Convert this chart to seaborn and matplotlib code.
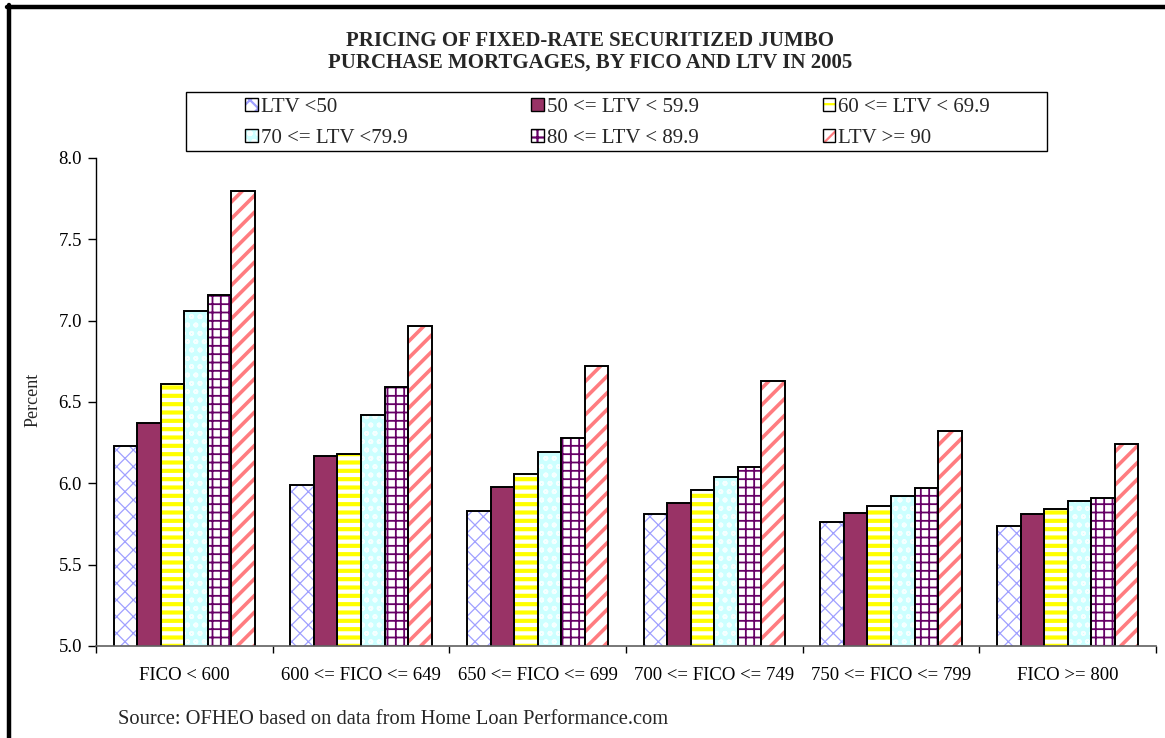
import numpy as np
import pandas as pd
import matplotlib
matplotlib.use("Agg")
import matplotlib.pyplot as plt
import seaborn as sns
from matplotlib.patches import Rectangle, Patch
from matplotlib.lines import Line2D
from matplotlib.legend_handler import HandlerTuple

# ---------------- data ----------------
fico_groups = ["FICO < 600", "600 <= FICO <= 649", "650 <= FICO <= 699",
               "700 <= FICO <= 749", "750 <= FICO <= 799", "FICO >= 800"]
ltv_classes = ["LTV <50", "50 <= LTV < 59.9", "60 <= LTV < 69.9",
               "70 <= LTV <79.9", "80 <= LTV < 89.9", "LTV >= 90"]
ltv_lt50 = [6.23, 5.99, 5.83, 5.81, 5.76, 5.74]
ltv_50_60 = [6.37, 6.17, 5.98, 5.88, 5.82, 5.81]
ltv_60_70 = [6.61, 6.18, 6.06, 5.96, 5.86, 5.84]
ltv_70_80 = [7.06, 6.42, 6.19, 6.04, 5.92, 5.89]
ltv_80_90 = [7.16, 6.59, 6.28, 6.10, 5.97, 5.91]
ltv_ge90 = [7.80, 6.97, 6.72, 6.63, 6.32, 6.24]
y_ticks = [5.0, 5.5, 6.0, 6.5, 7.0, 7.5, 8.0]
title_lines = ["PRICING OF FIXED-RATE SECURITIZED JUMBO",
               "PURCHASE MORTGAGES, BY FICO AND LTV IN 2005"]
source_text = "Source: OFHEO based on data from Home Loan Performance.com"

series = [ltv_lt50, ltv_50_60, ltv_60_70, ltv_70_80, ltv_80_90, ltv_ge90]
df = pd.DataFrame({
    "fico": [g for s in series for g in fico_groups],
    "ltv": [c for c, s in zip(ltv_classes, series) for _ in s],
    "value": [v for s in series for v in s],
})

# styles: facecolor, hatch, hatch colour, hatch linewidth
face_colors = ["white", "#993366", "white", "#CCFFFF", "white", "white"]
hatches = ["xx", None, "--", "oo", "++", "//"]
hatch_colors = ["#A0A0FF", "#993366", "#FFFF00", "#F6FFFF", "#660066", "#FF7C80"]
hatch_lws = [0.9, 1.0, 3.0, 1.2, 1.3, 2.6]

# ---------------- figure ----------------
sns.set_theme(style="white")
plt.rcParams["font.family"] = ["Liberation Serif", "DejaVu Serif"]
plt.rcParams["hatch.linewidth"] = 1.6

W, H = 1165, 738
fig = plt.figure(figsize=(W / 100, H / 100), dpi=100)
fig.patch.set_facecolor("white")
ax = fig.add_axes([96 / W, 1 - 646 / H, (1156 - 96) / W, (646 - 158) / H])

sns.barplot(data=df, x="fico", y="value", hue="ltv", order=fico_groups,
            hue_order=ltv_classes, palette=face_colors, saturation=1,
            errorbar=None, legend=False, width=0.8, ax=ax)


def style_patch(p, i):
    p.set_facecolor(face_colors[i])
    if hatches[i]:
        p.set_hatch(hatches[i])
    p.set_edgecolor(hatch_colors[i])
    p.set_linewidth(0)
    if hasattr(p, "set_hatch_linewidth"):
        p.set_hatch_linewidth(hatch_lws[i])


for i, cont in enumerate(ax.containers):
    for bar in cont:
        style_patch(bar, i)
        ax.add_patch(Rectangle((bar.get_x(), bar.get_y()), bar.get_width(),
                               bar.get_height(), fill=False, edgecolor="black",
                               linewidth=1.4, zorder=bar.get_zorder() + 0.1))

ax.set_ylim(5.0, 8.0)
ax.set_xlim(-0.5, len(fico_groups) - 0.5)
ax.set_yticks(y_ticks)
ax.set_yticklabels([f"{t:.1f}" for t in y_ticks])
ax.set_xticks(range(len(fico_groups)))
ax.set_xticklabels(fico_groups)
ax.set_xticks(np.arange(-0.5, len(fico_groups), 1.0), minor=True)
ax.tick_params(axis="x", which="major", length=0, pad=15, labelsize=13.5,
               colors="black")
ax.tick_params(axis="x", which="minor", length=5, width=1, direction="out",
               color="black", bottom=True)
ax.tick_params(axis="y", length=6, width=1, direction="out", pad=4,
               labelsize=13.5, colors="black", left=True)
ax.set_xlabel("")
ax.set_ylabel("")
for s in ["top", "right"]:
    ax.spines[s].set_visible(False)
ax.spines["left"].set_color("black")
ax.spines["left"].set_linewidth(1)
ax.spines["bottom"].set_color("#606060")
ax.spines["bottom"].set_linewidth(1.2)
ax.set_facecolor("white")

# titles and texts
fig.text(590 / W, 1 - 41 / H, title_lines[0], ha="center", va="center",
         fontsize=15, fontweight="bold")
fig.text(590 / W, 1 - 63 / H, title_lines[1], ha="center", va="center",
         fontsize=15, fontweight="bold")
fig.text(33 / W, 1 - 400 / H, "Percent", rotation=90, ha="center",
         va="center", fontsize=13)
fig.text(118 / W, 1 - 720 / H, source_text, ha="left", va="center",
         fontsize=14.8)

# legend
handles = []
for i in range(len(ltv_classes)):
    p1 = Patch()
    style_patch(p1, i)
    p2 = Patch(facecolor="none", edgecolor="black", linewidth=1)
    handles.append((p1, p2))
order = [0, 3, 1, 4, 2, 5]
leg = fig.legend([handles[k] for k in order], [ltv_classes[k] for k in order],
                 handler_map={tuple: HandlerTuple(ndivide=1, pad=0)},
                 ncol=3, loc="upper left", mode="expand",
                 bbox_to_anchor=(245 / W, 1 - 98 / H, (990 - 245) / W, 0.0),
                 frameon=False, fontsize=15, handlelength=0.6,
                 handleheight=0.6, handletextpad=0.15, borderpad=0,
                 borderaxespad=0, labelspacing=0.58)
fig.add_artist(Rectangle((186 / W, 1 - 151 / H), (1047 - 186) / W, 59 / H,
                         transform=fig.transFigure, fill=False,
                         edgecolor="black", linewidth=1))

# outer border (top and left)
fig.add_artist(Line2D([7 / W, 1.0], [1 - 7 / H, 1 - 7 / H],
                      transform=fig.transFigure, color="black", linewidth=3.2))
fig.add_artist(Line2D([9 / W, 9 / W], [0, 1 - 5 / H],
                      transform=fig.transFigure, color="black", linewidth=3.2))

fig.savefig("out.png", dpi=100, facecolor="white")
